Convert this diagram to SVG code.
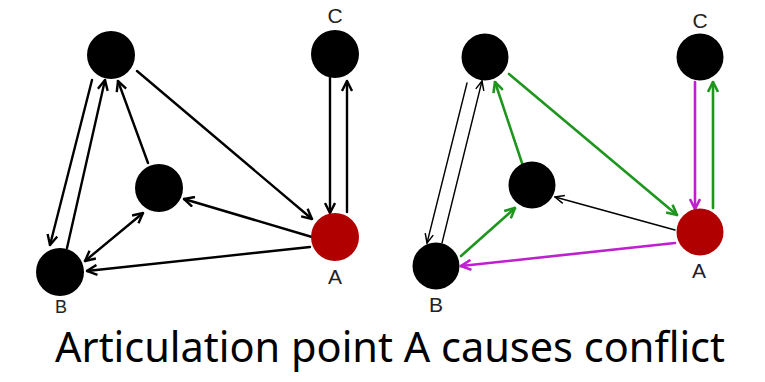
<svg xmlns="http://www.w3.org/2000/svg" width="765" height="382" viewBox="0 0 765 382">
<style>
.n{fill:#000}
.a{fill:#b00000}
.lbl{font-family:"Liberation Sans",Arial,sans-serif;font-size:21px;fill:#222;text-anchor:middle}
.e{fill:none;stroke-linecap:round}
.k{stroke:#000;stroke-width:2.4}
.kt{stroke:#000;stroke-width:1.4}
.g{stroke:#1e961e;stroke-width:2.6}
.m{stroke:#bf1fcf;stroke-width:2.6}
.cap{font-family:"Noto Sans","Open Sans",sans-serif;font-size:41px;fill:#000}
</style>
<defs>
<marker id="ak" viewBox="0 0 12 12" refX="11" refY="6" markerWidth="12" markerHeight="12" markerUnits="userSpaceOnUse" orient="auto-start-reverse"><path d="M1,1 L11,6 L1,11" fill="none" stroke="#000" stroke-width="2.4"/></marker>
<marker id="akt" viewBox="0 0 12 12" refX="11" refY="6" markerWidth="11" markerHeight="11" markerUnits="userSpaceOnUse" orient="auto"><path d="M1,1.5 L11,6 L1,10.5" fill="none" stroke="#000" stroke-width="1.6"/></marker>
<marker id="ag" viewBox="0 0 12 12" refX="11" refY="6" markerWidth="12" markerHeight="12" markerUnits="userSpaceOnUse" orient="auto"><path d="M1,1 L11,6 L1,11" fill="none" stroke="#1e961e" stroke-width="2.6"/></marker>
<marker id="am" viewBox="0 0 12 12" refX="11" refY="6" markerWidth="12" markerHeight="12" markerUnits="userSpaceOnUse" orient="auto"><path d="M1,1 L11,6 L1,11" fill="none" stroke="#bf1fcf" stroke-width="2.6"/></marker>
</defs>
<g id="connectors">
<line class="e k" x1="92" y1="80" x2="50" y2="245" marker-end="url(#ak)"/>
<line class="e k" x1="67" y1="248" x2="105" y2="80" marker-end="url(#ak)"/>
<line class="e k" x1="148" y1="163" x2="118" y2="81" marker-end="url(#ak)"/>
<line class="e k" x1="137" y1="71" x2="312" y2="219" marker-end="url(#ak)"/>
<line class="e k" x1="330" y1="77" x2="330" y2="213" marker-end="url(#ak)"/>
<line class="e k" x1="347" y1="212" x2="347" y2="81" marker-end="url(#ak)"/>
<line class="e k" x1="312" y1="237" x2="184" y2="199" marker-end="url(#ak)"/>
<line class="e k" x1="310" y1="247" x2="87" y2="271" marker-end="url(#ak)"/>
<line class="e k" x1="85" y1="261" x2="143" y2="213" marker-start="url(#ak)" marker-end="url(#ak)"/>
<line class="e kt" x1="467" y1="83" x2="427" y2="243" marker-end="url(#akt)"/>
<line class="e kt" x1="442" y1="243" x2="482" y2="81" marker-end="url(#akt)"/>
<line class="e g" x1="522" y1="163" x2="495" y2="82" marker-end="url(#ag)"/>
<line class="e g" x1="509" y1="74" x2="677" y2="215" marker-end="url(#ag)"/>
<line class="e m" x1="695" y1="82" x2="695" y2="209" marker-end="url(#am)"/>
<line class="e g" x1="713" y1="208" x2="713" y2="82" marker-end="url(#ag)"/>
<line class="e kt" x1="675" y1="230" x2="555" y2="197" marker-end="url(#akt)"/>
<line class="e m" x1="675" y1="243" x2="461" y2="266" marker-end="url(#am)"/>
<line class="e g" x1="461" y1="256" x2="515" y2="208" marker-end="url(#ag)"/>
</g>
<g id="L-top"><circle class="n" cx="111" cy="55" r="24"/></g>
<g id="L-C"><circle class="n" cx="335" cy="54" r="24"/><text class="lbl" x="335" y="23">C</text></g>
<g id="L-mid"><circle class="n" cx="159" cy="188" r="24"/></g>
<g id="L-A"><circle class="a" cx="335" cy="237" r="24"/><text class="lbl" x="335" y="284">A</text></g>
<g id="L-B"><circle class="n" cx="60" cy="272" r="24"/><text class="lbl" x="61" y="313" style="font-size:18px">B</text></g>
<g id="R-top"><circle class="n" cx="485" cy="57" r="23.5"/></g>
<g id="R-C"><circle class="n" cx="700" cy="57" r="23.5"/><text class="lbl" x="700" y="28">C</text></g>
<g id="R-mid"><circle class="n" cx="532" cy="185" r="23.5"/></g>
<g id="R-A"><circle class="a" cx="700" cy="232" r="23.5"/><text class="lbl" x="699" y="278">A</text></g>
<g id="R-B"><circle class="n" cx="436" cy="266" r="23.5"/><text class="lbl" x="436" y="312">B</text></g>
<text class="cap" x="55" y="362" textLength="670" lengthAdjust="spacingAndGlyphs">Articulation point A causes conflict</text>
</svg>
